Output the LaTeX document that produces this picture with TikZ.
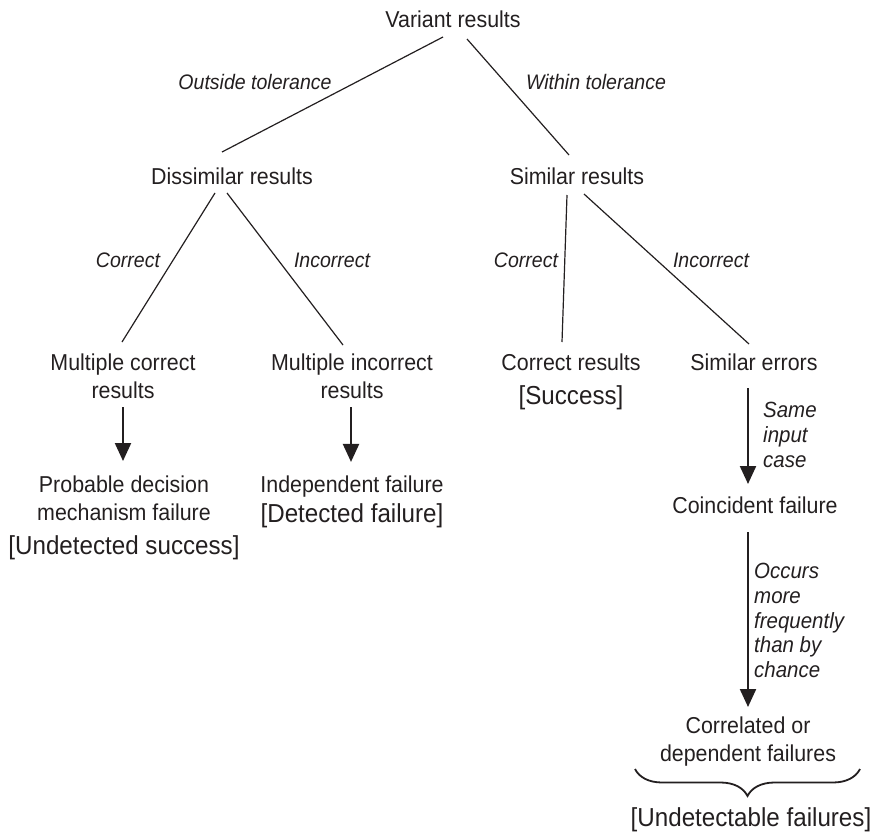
\documentclass[tikz,border=0pt]{standalone}
\usepackage{fontspec}
\setmainfont{Liberation Sans}[FakeStretch=0.93]
\usetikzlibrary{arrows.meta,calc,decorations.pathreplacing}
\definecolor{ink}{HTML}{231F20}
\begin{document}
\begin{tikzpicture}[x=1pt,y=-1pt,
 txt/.style={inner sep=0pt,font=\fontsize{23}{28.5}\selectfont,align=center,text=ink},
 brk/.style={inner sep=0pt,font=\fontsize{26}{28}\selectfont,text=ink},
 lbl/.style={inner sep=0pt,font=\fontsize{21}{24}\selectfont\itshape,text=ink},
 vlbl/.style={inner sep=0pt,font=\fontsize{22}{24.75}\selectfont\itshape,align=left,text=ink},
 link/.style={draw=ink,line width=1.2pt},
 flow/.style={draw=ink,line width=2.2pt,-{Triangle[width=16pt,length=18pt]}},
 bracestyle/.style={draw=ink,line width=1.8pt,decorate,decoration={brace,amplitude=27pt}}]
\useasboundingbox (0,0) rectangle (875,832);

% main nodes
\node[txt,anchor=base] (vr) at (453,28) {Variant results};
\node[txt,anchor=base] (dr) at (232,184) {Dissimilar results};
\node[txt,anchor=base] (sr) at (577,184) {Similar results};
\node[txt,anchor=north] (mc) at (123,353.2) {Multiple correct\\results};
\node[txt,anchor=north] (mi) at (352,353.2) {Multiple incorrect\\results};
\node[txt,anchor=base] (cr) at (571,370) {Correct results};
\node[brk,anchor=base] (su) at (571,404) {[Success]};
\node[txt,anchor=base] (se) at (754,370) {Similar errors};
\node[txt,anchor=north] (pd) at (124,475.2) {Probable decision\\mechanism failure};
\node[brk,anchor=base] (us) at (124,554) {[Undetected success]};
\node[txt,anchor=base] (inf) at (352,492) {Independent failure};
\node[brk,anchor=base] (df) at (352,522) {[Detected failure]};
\node[txt,anchor=base] (cf) at (755,513) {Coincident failure};
\node[txt,anchor=north] (cd) at (748,716.2) {Correlated or\\dependent failures};
\node[brk,anchor=base] (uf) at (751,826) {[Undetectable failures]};

% labels
\node[lbl,anchor=base] (l1) at (255,90) {Outside tolerance};
\node[lbl,anchor=base] (l2) at (596,90) {Within tolerance};
\node[lbl,anchor=base] (l3) at (128,267) {Correct};
\node[lbl,anchor=base] (l4) at (332,267) {Incorrect};
\node[lbl,anchor=base] (l5) at (526,267) {Correct};
\node[lbl,anchor=base] (l6) at (711,267) {Incorrect};
\node[vlbl,anchor=north west] (l7) at (763,402) {Same\\input\\case};
\node[vlbl,anchor=north west] (l8) at (754,563) {Occurs\\more\\frequently\\than by\\chance};

% tree lines
\draw[link] ($(vr.base)+(-10,9)$) -- ($(dr.base)+(-10,-32)$);
\draw[link] ($(vr.base)+(14,11)$) -- ($(sr.base)+(-8,-29)$);
\draw[link] ($(dr.base)+(-17,9)$) -- ($(mc.north)+(-1,-11.2)$);
\draw[link] ($(dr.base)+(-5,9)$) -- ($(mi.north)+(-9,-8.2)$);
\draw[link] ($(sr.base)+(-10,11)$) -- ($(cr.base)+(-9,-28)$);
\draw[link] ($(sr.base)+(7,10)$) -- ($(se.base)+(-5,-26)$);

% arrows
\draw[flow] ($(mc.south)+(0,8.5)$) -- ($(pd.north)+(-1,-14.2)$);
\draw[flow] ($(mi.south)+(-1,8.5)$) -- ($(inf.north)+(-1,-13.2)$);
\draw[flow] ($(se.base)+(-6,18)$) -- ($(cf.base)+(-7,-29)$);
\draw[flow] ($(cf.base)+(-7,19)$) -- ($(cd.north)+(0,-9.2)$);

% brace
\coordinate (br1) at (860,769);
\coordinate (br2) at (635,769);
\draw[bracestyle] (br1) -- (br2);
\end{tikzpicture}
\end{document}
